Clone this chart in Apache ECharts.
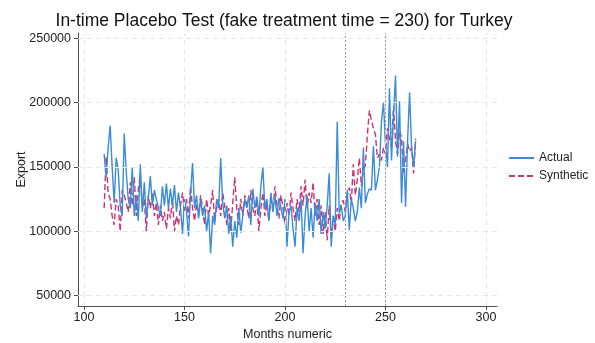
<!DOCTYPE html>
<html>
<head>
<meta charset="utf-8">
<script src="https://cdn.jsdelivr.net/npm/echarts@6/dist/echarts.min.js"></script>
<style>
  html, body { margin: 0; padding: 0; background: #fff; }
  #chart { width: 595px; height: 343px; }
</style>
</head>
<body>
<div id="chart"></div>
<script>
// Monthly export values, months 110..265
const startMonth = 110;
const actual = [
  160000, 142000, 165000, 182000, 150000, 122000, 157000, 148000, 120000, 112000,
  176000, 146000, 125000, 118000, 150000, 112000, 128000, 108000, 152000, 115000,
  138000, 110000, 126000, 143000, 120000, 132000, 125000, 118000, 112000, 135000,
  120000, 137000, 118000, 133000, 120000, 136000, 115000, 130000, 118000, 98000,
  125000, 115000, 96000, 130000, 153000, 118000, 128000, 110000, 125000, 112000,
  120000, 100000, 115000, 83000, 112000, 105000, 125000, 118000, 157000, 122000,
  110000, 120000, 98000, 112000, 88000, 108000, 95000, 118000, 99000, 112000,
  125000, 118000, 128000, 105000, 133000, 118000, 127000, 112000, 135000, 150000,
  118000, 125000, 108000, 130000, 115000, 128000, 112000, 126000, 118000, 110000,
  125000, 88000, 115000, 120000, 102000, 88000, 118000, 108000, 125000, 83000,
  112000, 128000, 100000, 118000, 95000, 122000, 108000, 125000, 98000, 115000,
  102000, 120000, 145000, 88000, 112000, 105000, 185000, 114000, 120000, 108000,
  112000, 132000, 101000, 125000, 118000, 108000, 115000, 134000, 118000, 165000,
  122000, 129000, 133000, 132000, 166000, 132000, 140000, 150000, 185000, 200000,
  168000, 150000, 211000, 155000, 190000, 221000, 158000, 201000, 122000, 170000,
  119000, 170000, 208000, 165000, 150000, 170000
];
const synthetic = [
  118000, 158000, 130000, 125000, 112000, 105000, 125000, 120000, 100000, 132000,
  128000, 122000, 115000, 138000, 120000, 142000, 112000, 132000, 145000, 118000,
  125000, 100000, 128000, 118000, 130000, 112000, 122000, 105000, 120000, 108000,
  115000, 102000, 118000, 110000, 125000, 100000, 112000, 105000, 120000, 130000,
  115000, 125000, 110000, 135000, 118000, 108000, 122000, 112000, 128000, 118000,
  105000, 125000, 112000, 120000, 132000, 108000, 118000, 125000, 112000, 130000,
  120000, 105000, 118000, 100000, 122000, 142000, 118000, 105000, 125000, 112000,
  128000, 120000, 110000, 132000, 118000, 112000, 125000, 100000, 118000, 130000,
  112000, 122000, 108000, 128000, 115000, 135000, 120000, 110000, 128000, 118000,
  105000, 122000, 112000, 130000, 118000, 108000, 125000, 115000, 135000, 120000,
  140000, 118000, 130000, 122000, 138000, 112000, 125000, 105000, 120000, 98000,
  115000, 93000, 120000, 95000, 112000, 100000, 118000, 108000, 122000, 124000,
  115000, 128000, 134000, 122000, 152000, 128000, 140000, 157000, 135000, 148000,
  151000, 175000, 194000, 186000, 180000, 175000, 157000, 160000, 155000, 165000,
  160000, 180000, 172000, 165000, 197000, 170000, 160000, 178000, 173000, 145000,
  155000, 168000, 162000, 165000, 145000, 172000
];
const xTicks = [100, 150, 200, 250, 300];
const yTicks = [50000, 100000, 150000, 200000, 250000];
const referenceMonths = [230, 250];

const pairs = arr => arr.map((v, i) => [startMonth + i, v]);

const gridLine = { color: '#e6e6e6', width: 1, type: [5, 4] };
const axisColor = '#4d4d4d';
const font = 'Liberation Sans, Arial, Helvetica, sans-serif';

const chart = echarts.init(document.getElementById('chart'), null, { renderer: 'canvas' });
chart.setOption({
  backgroundColor: '#ffffff',
  animation: false,
  title: {
    text: 'In-time Placebo Test (fake treatment time = 230) for Turkey',
    left: 279, top: 7, textAlign: 'center',
    textStyle: { fontFamily: font, fontSize: 17.5, fontWeight: 'normal', color: '#111' }
  },
  legend: {
    orient: 'vertical', left: 503, top: 147, itemGap: 6,
    itemWidth: 25, itemHeight: 10,
    itemStyle: { opacity: 0 },
    textStyle: { fontFamily: font, fontSize: 12, color: '#222' },
    data: ['Actual', 'Synthetic']
  },
  grid: { left: 78, right: 98, top: 33, bottom: 37, containLabel: false, outerBoundsMode: 'none' },
  xAxis: {
    type: 'value', min: 97, max: 305.5,
    name: 'Months numeric', nameLocation: 'middle', nameGap: 22, nameMoveOverlap: false,
    nameTextStyle: { fontFamily: font, fontSize: 12.5, color: '#222' },
    axisLine: { show: true, lineStyle: { color: axisColor, width: 1 } },
    axisTick: { show: true, length: 4, customValues: xTicks, lineStyle: { color: axisColor } },
    axisLabel: { customValues: xTicks, fontFamily: font, fontSize: 12.5, color: '#222', margin: 5 },
    splitLine: { show: false }
  },
  yAxis: {
    type: 'value', min: 42000, max: 254000,
    name: 'Export', nameLocation: 'middle', nameGap: 50, nameRotate: 90, nameMoveOverlap: false,
    nameTextStyle: { fontFamily: font, fontSize: 12.5, color: '#222' },
    axisLine: { show: true, lineStyle: { color: axisColor, width: 1 } },
    axisTick: { show: true, length: 4, customValues: yTicks, lineStyle: { color: axisColor } },
    axisLabel: {
      customValues: yTicks, fontFamily: font, fontSize: 12.5, color: '#222', margin: 7,
      formatter: v => String(v)
    },
    splitLine: { show: false }
  },
  series: [
    {
      // background grid drawn at tick positions
      name: 'grid', type: 'line', data: [], silent: true,
      markLine: {
        silent: true, symbol: 'none', label: { show: false },
        lineStyle: gridLine,
        data: xTicks.map(v => ({ xAxis: v })).concat(yTicks.map(v => ({ yAxis: v })))
      }
    },
    {
      name: 'Actual', type: 'line', data: pairs(actual),
      showSymbol: false, symbol: 'none',
      lineStyle: { color: '#3a8bd8', width: 1.4 },
      itemStyle: { color: '#3a8bd8' },
      z: 3,
      markLine: {
        silent: true, symbol: 'none', label: { show: false },
        lineStyle: { color: '#9a9a9a', width: 1, type: [2, 2] },
        data: referenceMonths.map(v => ({ xAxis: v }))
      }
    },
    {
      name: 'Synthetic', type: 'line', data: pairs(synthetic),
      showSymbol: false, symbol: 'none',
      lineStyle: { color: '#c93374', width: 1.4, type: [6, 3] },
      itemStyle: { color: '#c93374' },
      z: 2
    }
  ]
});
</script>
</body>
</html>
